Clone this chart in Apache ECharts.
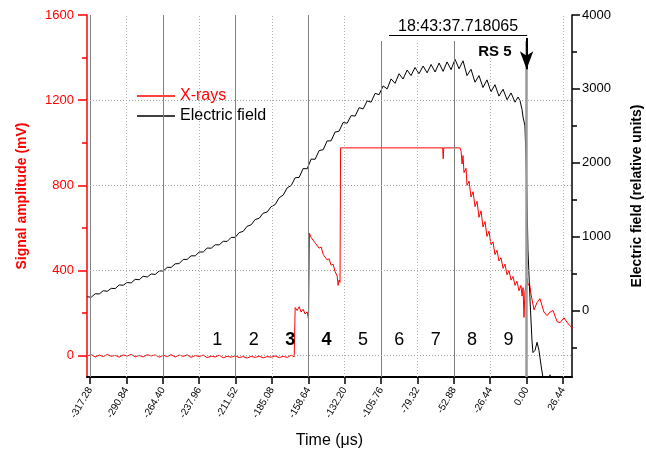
<!DOCTYPE html>
<html>
<head>
<meta charset="utf-8">
<script src="https://cdn.jsdelivr.net/npm/echarts@6/dist/echarts.min.js"></script>
<style>
  html, body { margin: 0; padding: 0; background: #fff; }
  #chart { width: 646px; height: 452px; }
</style>
</head>
<body>
<div id="chart"></div>
<script>
// x-ray signal (mV), left axis
var xrayTime = [-319.3,-316.4,-313.5,-310.6,-307.7,-304.8,-301.9,-299.0,-296.1,-293.2,
  -290.3,-287.4,-284.5,-281.5,-278.7,-275.7,-272.8,-269.9,-267.0,-264.1,
  -261.2,-258.3,-255.4,-252.5,-249.6,-246.7,-243.8,-240.8,-238.0,-235.0,
  -232.2,-229.2,-226.3,-223.4,-220.5,-217.6,-214.7,-211.8,-208.9,-206.0,
  -203.1,-200.1,-197.3,-194.3,-191.5,-188.5,-185.7,-182.7,-179.8,-176.9,
  -174.0,-171.1,-168.9,
  -168.2,-166.8,-165.3,-163.9,-162.4,-161.0,-159.5,-158.5,-157.8,-156.6,
  -155.2,-153.7,-152.3,-150.8,-149.3,-147.8,-146.4,-145.0,-143.5,-142.1,
  -140.6,-139.2,-137.7,-137.0,-136.3,-135.6,-135.2,
  -61.0,-60.6,-60.2,-48.4,-47.6,-46.9,-46.2,-45.5,-44.0,-43.3,
  -41.8,-40.4,-38.9,-37.5,-36.0,-34.6,-33.1,-31.7,-30.2,-28.8,
  -27.3,-25.9,-24.4,-23.0,-21.5,-20.1,-18.6,-17.1,-15.7,-14.2,
  -12.8,-11.3,-9.9,-8.4,-7.0,-5.5,-4.1,-3.3,-2.6,-1.9,
  -1.2,-0.4,0.3,1.0,2.1,3.2,5.4,7.6,9.7,12.6,
  14.9,17.0,19.2,22.2,24.3,27.2,30.1,33.0,35.2]
var xrayAmp = [-2,5,-6,3,-4,6,-3,2,-7,4,
  -2,6,-5,1,-6,5,-1,4,-7,2,
  -4,5,-6,3,-3,4,-8,1,-4,3,
  -9,-2,-6,2,-10,-3,-7,0,-9,-4,
  -11,-3,-8,-2,-10,-4,-7,-1,-9,-3,
  -8,2,-5,
  226,212,230,205,218,196,206,172,575,555,
  560,530,535,505,510,475,480,450,455,425,
  430,395,375,330,355,345,976,
  976,925,976,976,960,900,940,860,880,800,
  820,745,770,700,725,650,680,605,630,560,
  585,520,535,475,495,445,460,410,430,380,
  400,355,372,330,350,305,330,280,320,180,
  300,330,365,330,340,290,215,250,268,205,
  188,205,212,160,155,178,150,132,128]

// electric field (relative units), right axis
var fieldTime = [-319.3,-316.4,-313.5,-310.6,-307.7,-304.8,-301.9,-299.0,-296.1,-293.2,
  -290.3,-287.4,-284.5,-281.5,-278.7,-275.7,-272.8,-269.9,-267.0,-264.1,
  -261.2,-258.3,-255.4,-252.5,-249.6,-246.7,-243.8,-240.8,-238.0,-235.0,
  -232.2,-229.2,-226.3,-223.4,-220.5,-217.6,-214.7,-211.8,-208.9,-206.0,
  -203.1,-200.1,-197.3,-194.3,-191.5,-188.5,-185.7,-182.7,-179.8,-176.9,
  -174.0,-171.1,-168.2,-165.3,-162.4,-159.5,-156.6,-153.7,-150.8,-147.8,
  -145.0,-142.1,-139.2,-136.3,-133.4,-130.4,-127.5,-124.6,-121.7,-118.8,
  -115.9,-113.0,-110.1,-107.2,-104.3,-101.3,-98.5,-95.6,-92.7,-89.8,
  -86.8,-84.0,-81.1,-78.2,-75.2,-72.3,-69.4,-66.5,-63.6,-60.7,
  -57.8,-54.9,-52.0,-49.1,-46.2,-43.3,-40.4,-37.5,-34.6,-31.7,
  -28.8,-25.9,-23.0,-20.1,-17.1,-14.2,-11.3,-8.4,
  -6.2,-4.8,-3.3,-2.6,-1.2,-0.4,0.3,1.0,2.5,3.9,
  4.6,6.1,7.6,9.0,10.5,11.9,14.1,16.3,17.0,17.7,
  24.3,35.2]
var fieldVal = [186,180,227,224,268,260,300,297,346,342,
  379,373,422,417,464,454,495,488,536,535,
  584,584,632,635,691,692,740,740,791,793,
  845,844,890,889,937,935,990,990,1055,1071,
  1140,1161,1231,1249,1317,1334,1405,1435,1527,1562,
  1661,1691,1797,1802,1922,1918,2050,2047,2165,2177,
  2295,2297,2415,2427,2544,2536,2639,2632,2746,2729,
  2837,2820,2939,2922,3040,3000,3135,3075,3205,3133,
  3255,3180,3290,3205,3310,3217,3330,3228,3350,3237,
  3365,3260,3400,3272,3380,3180,3265,3090,3180,3018,
  3122,2960,3057,2902,2995,2853,2945,2820,
  2890,2840,2720,2620,2500,2050,1500,820,140,-400,
  -570,-540,-430,-540,-740,-910,-1100,-1100,-870,-1100,
  -1200,-1200]

// axis ticks
var xTicks = [-317.28,-290.84,-264.40,-237.96,-211.52,-185.08,-158.64,-132.20,-105.76,-79.32,-52.88,-26.44,0,26.44]
var leftTicks = [0,400,800,1200,1600]
var leftMinor = [200,600,1000,1400]
var rightTicks = [0,1000,2000,3000,4000]
var rightMinor = [-500,500,1500,2500,3500]
var hGrid = [0,400,800,1200]

// zone numbers between the vertical lines
var zoneNames = ['1','2','3','4','5','6','7','8','9']
var zoneCenters = [-224.74,-198.30,-171.86,-145.42,-118.98,-92.54,-66.10,-39.66,-13.22]
var zoneBold = ['3','4']

// timestamp box: vertical lines stop under it
var stampFrom = -107
var stampTo = 3
var stampBottom = 1478

var FONT = 'Liberation Sans, Arial, sans-serif'
var RED = '#ff0000'
var Y_MIN = -100
var Y_MAX = 1600

var pairs = function (xs, ys) {
  var out = []
  for (var i = 0; i < xs.length; i++) {
    out.push([xs[i], ys[i]])
  }
  return out
}

var plain = function (v) { return String(v) }

// vertical + horizontal grid lines
var gridLines = function () {
  var lines = []
  xTicks.forEach(function (v, i) {
    var style
    if (v === 0) {
      style = {color: '#9a9a9a', width: 2.5, type: 'solid'}
    } else if (i % 2 === 0) {
      style = {color: '#808080', width: 1, type: 'solid'}
    } else {
      style = {color: '#b4b4b4', width: 1, type: [1, 2]}
    }
    var top = (v > stampFrom && v < stampTo) ? stampBottom : Y_MAX
    lines.push([{coord: [v, Y_MIN], lineStyle: style}, {coord: [v, top]}])
  })
  hGrid.forEach(function (v) {
    lines.push({yAxis: v, lineStyle: {color: '#a0a0a0', width: 1, type: [1, 2]}})
  })
  return lines
}

var zonePoints = function () {
  return zoneNames.map(function (n, i) {
    return {
      coord: [zoneCenters[i], 73],
      label: {fontWeight: zoneBold.indexOf(n) >= 0 ? 'bold' : 'normal'},
      value: n,
    }
  })
}

var chart = echarts.init(document.getElementById('chart'), null, {renderer: 'canvas'})
chart.setOption({
  animation: false,
  backgroundColor: '#fff',
  textStyle: {fontFamily: FONT},
  grid: {left: 87, right: 74, top: 15, bottom: 75, containLabel: false, outerBoundsMode: 'none'},
  legend: {
    data: [
      {name: 'X-rays', textStyle: {color: RED}},
      {name: 'Electric field', textStyle: {color: '#000'}},
    ],
    orient: 'vertical',
    left: 132,
    top: 83,
    icon: 'rect',
    itemWidth: 38,
    itemHeight: 1.5,
    itemGap: 4,
    padding: [5, 6, 5, 5],
    backgroundColor: '#fff',
    textStyle: {fontSize: 16, fontFamily: FONT},
    selectedMode: false,
  },
  xAxis: {
    type: 'value',
    min: -319.5,
    max: 33,
    name: 'Time (\u03bcs)',
    nameLocation: 'middle',
    nameGap: 56,
    nameTextStyle: {fontSize: 16, color: '#000', fontFamily: FONT},
    axisLine: {onZero: false, lineStyle: {color: '#000', width: 2}},
    axisTick: {customValues: xTicks, length: 7, lineStyle: {color: '#000', width: 1.5}},
    axisLabel: {
      customValues: xTicks,
      rotate: 60,
      fontSize: 10,
      color: '#000',
      margin: 11,
      formatter: function (v) { return v.toFixed(2) },
    },
    splitLine: {show: false},
  },
  yAxis: [
    {
      type: 'value',
      position: 'left',
      min: Y_MIN,
      max: Y_MAX,
      name: 'Signal amplitude (mV)',
      nameLocation: 'middle',
      nameGap: 58,
      nameTextStyle: {fontSize: 14, fontWeight: 'bold', color: RED, fontFamily: FONT},
      axisLine: {show: true, onZero: false, lineStyle: {color: RED, width: 1.5}},
      axisTick: {show: true, customValues: leftTicks, length: 9, lineStyle: {color: RED, width: 1.5}},
      axisLabel: {customValues: leftTicks, color: RED, fontSize: 13, margin: 13, formatter: plain},
      splitLine: {show: false},
    },
    {
      type: 'value',
      position: 'right',
      min: -900,
      max: 4000,
      name: 'Electric field (relative units)',
      nameLocation: 'middle',
      nameGap: 58,
      nameRotate: 90,
      nameTextStyle: {fontSize: 14, fontWeight: 'bold', color: '#000', fontFamily: FONT},
      axisLine: {show: true, onZero: false, lineStyle: {color: '#000', width: 1.5}},
      axisTick: {show: true, customValues: rightTicks, length: 8, lineStyle: {color: '#000', width: 1.5}},
      axisLabel: {customValues: rightTicks, color: '#000', fontSize: 13, margin: 10, formatter: plain},
      splitLine: {show: false},
    },
    {
      // minor ticks left
      type: 'value',
      position: 'left',
      min: Y_MIN,
      max: Y_MAX,
      axisLine: {show: false, onZero: false},
      axisTick: {show: true, customValues: leftMinor, length: 5, lineStyle: {color: RED, width: 1.5}},
      axisLabel: {show: false},
      splitLine: {show: false},
    },
    {
      // minor ticks right
      type: 'value',
      position: 'right',
      min: -900,
      max: 4000,
      axisLine: {show: false, onZero: false},
      axisTick: {show: true, customValues: rightMinor, length: 5, lineStyle: {color: '#000', width: 1.5}},
      axisLabel: {show: false},
      splitLine: {show: false},
    },
  ],
  series: [
    {
      name: 'grid',
      type: 'line',
      data: [],
      z: 1,
      silent: true,
      markLine: {
        silent: true,
        symbol: ['none', 'none'],
        label: {show: false},
        data: gridLines(),
      },
    },
    {
      name: 'X-rays',
      type: 'line',
      yAxisIndex: 0,
      data: pairs(xrayTime, xrayAmp),
      symbol: 'none',
      z: 3,
      itemStyle: {color: RED},
      lineStyle: {color: RED, width: 1},
    },
    {
      name: 'Electric field',
      type: 'line',
      yAxisIndex: 1,
      data: pairs(fieldTime, fieldVal),
      symbol: 'none',
      z: 3,
      itemStyle: {color: '#000'},
      lineStyle: {color: '#000', width: 1},
    },
    {
      name: 'notes',
      type: 'line',
      yAxisIndex: 0,
      data: [],
      z: 4,
      markLine: {
        silent: true,
        symbol: ['none', 'none'],
        data: [
          [
            {coord: [-100, 1506], lineStyle: {color: '#000', width: 1.2, type: 'solid'},
             label: {show: true, position: 'middle', formatter: '18:43:37.718065', fontSize: 16, color: '#000', distance: 0, fontFamily: FONT}},
            {coord: [0.4, 1506]},
          ],
          [
            {coord: [0, 1492], symbol: 'none', lineStyle: {color: '#000', width: 2, type: 'solid'}, label: {show: false}},
            {coord: [0, 1345], symbol: 'arrow', symbolSize: [10, 18]},
          ],
        ],
      },
      markPoint: {
        silent: true,
        symbol: 'circle',
        symbolSize: 0,
        label: {show: true, position: 'inside', color: '#000', fontSize: 18, fontFamily: FONT,
          formatter: function (p) { return p.value }},
        data: zonePoints().concat([
          {coord: [-23, 1426], value: 'RS 5', label: {fontWeight: 'bold', fontSize: 15}},
        ]),
      },
    },
  ],
})
</script>
</body>
</html>
